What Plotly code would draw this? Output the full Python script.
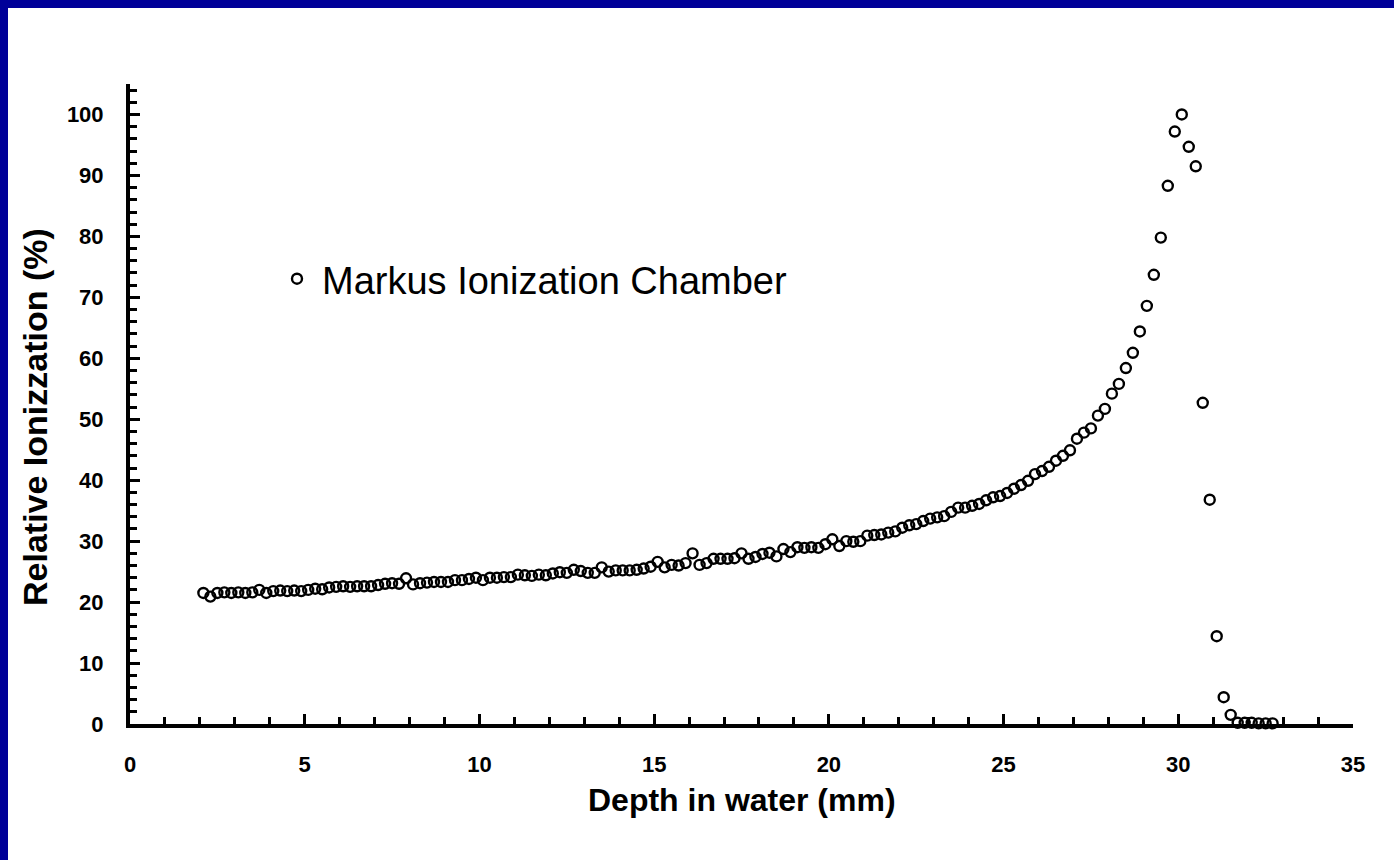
import plotly.graph_objects as go

depth_mm = [
    2.1, 2.3, 2.5, 2.7, 2.9, 3.1, 3.3, 3.5, 3.7, 3.9,
    4.1, 4.3, 4.5, 4.7, 4.9, 5.1, 5.3, 5.5, 5.7, 5.9,
    6.1, 6.3, 6.5, 6.7, 6.9, 7.1, 7.3, 7.5, 7.7, 7.9,
    8.1, 8.3, 8.5, 8.7, 8.9, 9.1, 9.3, 9.5, 9.7, 9.9,
    10.1, 10.3, 10.5, 10.7, 10.9, 11.1, 11.3, 11.5, 11.7, 11.9,
    12.1, 12.3, 12.5, 12.7, 12.9, 13.1, 13.3, 13.5, 13.7, 13.9,
    14.1, 14.3, 14.5, 14.7, 14.9, 15.1, 15.3, 15.5, 15.7, 15.9,
    16.1, 16.3, 16.5, 16.7, 16.9, 17.1, 17.3, 17.5, 17.7, 17.9,
    18.1, 18.3, 18.5, 18.7, 18.9, 19.1, 19.3, 19.5, 19.7, 19.9,
    20.1, 20.3, 20.5, 20.7, 20.9, 21.1, 21.3, 21.5, 21.7, 21.9,
    22.1, 22.3, 22.5, 22.7, 22.9, 23.1, 23.3, 23.5, 23.7, 23.9,
    24.1, 24.3, 24.5, 24.7, 24.9, 25.1, 25.3, 25.5, 25.7, 25.9,
    26.1, 26.3, 26.5, 26.7, 26.9, 27.1, 27.3, 27.5, 27.7, 27.9,
    28.1, 28.3, 28.5, 28.7, 28.9, 29.1, 29.3, 29.5, 29.7, 29.9,
    30.1, 30.3, 30.5, 30.7, 30.9, 31.1, 31.3, 31.5, 31.7, 31.9,
    32.1, 32.3, 32.5, 32.7,
]

relative_ionization = [
    21.5, 20.9, 21.5, 21.6, 21.5, 21.6, 21.5, 21.6, 22.0, 21.5,
    21.8, 21.9, 21.8, 21.9, 21.8, 22.0, 22.2, 22.1, 22.4, 22.5,
    22.6, 22.5, 22.6, 22.6, 22.6, 22.8, 23.0, 23.1, 23.0, 23.9,
    22.9, 23.1, 23.2, 23.3, 23.3, 23.3, 23.6, 23.6, 23.8, 24.0,
    23.6, 24.0, 24.0, 24.1, 24.1, 24.5, 24.4, 24.3, 24.5, 24.4,
    24.7, 24.9, 24.8, 25.3, 25.1, 24.8, 24.8, 25.7, 25.0, 25.2,
    25.2, 25.2, 25.3, 25.5, 25.8, 26.6, 25.7, 26.1, 26.0, 26.4,
    28.0, 26.1, 26.4, 27.1, 27.1, 27.1, 27.2, 28.0, 27.1, 27.4,
    27.9, 28.1, 27.5, 28.7, 28.2, 29.0, 28.9, 29.0, 28.9, 29.5,
    30.3, 29.2, 30.0, 29.9, 30.0, 30.9, 31.0, 31.1, 31.4, 31.6,
    32.2, 32.6, 32.8, 33.3, 33.7, 33.9, 34.1, 34.8, 35.5, 35.5,
    35.8, 36.1, 36.7, 37.2, 37.4, 37.9, 38.6, 39.2, 39.9, 41.0,
    41.5, 42.2, 43.2, 44.0, 44.9, 46.8, 47.8, 48.5, 50.6, 51.7,
    54.2, 55.8, 58.4, 60.9, 64.4, 68.6, 73.7, 79.8, 88.3, 97.2,
    100.0, 94.7, 91.5, 52.7, 36.8, 14.4, 4.4, 1.5, 0.2, 0.2,
    0.2, 0.1, 0.1, 0.1,
]

series_name = "Markus Ionization Chamber"
x_title = "Depth in water (mm)"
y_title = "Relative Ionizzation (%)"

W, H = 1394, 860
ML, MR, MT, MB = 130, 41, 84, 136
PW, PH = W - ML - MR, H - MT - MB


def px_x(p):
    return (p - ML) / PW


def px_y(p):
    return (H - MB - p) / PH


FONT = "Liberation Sans, Arial, sans-serif"
BLUE = "#000099"

fig = go.Figure()
fig.add_trace(go.Scatter(
    x=depth_mm, y=relative_ionization, mode="markers", name=series_name,
    marker=dict(symbol="circle-open", size=10, color="black",
                line=dict(width=2.4, color="black")),
    cliponaxis=False,
))

axis_common = dict(
    showgrid=False, zeroline=False, showline=True, linecolor="black",
    linewidth=4, ticks="inside", tickcolor="black", tickwidth=3,
    ticklen=10, mirror=False,
    tickfont=dict(family=FONT, size=22, color="black", weight="bold"),
)

fig.update_xaxes(range=[0, 35], dtick=5, tick0=0, ticklabelstandoff=18,
                 minor=dict(ticks="inside", dtick=1, ticklen=7, tickwidth=3,
                            tickcolor="black"),
                 **axis_common)
fig.update_yaxes(range=[0, 105], dtick=10, tick0=0, ticklabelstandoff=18,
                 minor=dict(ticks="inside", dtick=2, ticklen=7, tickwidth=3,
                            tickcolor="black"),
                 **axis_common)

fig.update_layout(
    width=W, height=H,
    margin=dict(l=ML, r=MR, t=MT, b=MB, pad=0),
    paper_bgcolor="white", plot_bgcolor="white",
    showlegend=True,
    legend=dict(x=px_x(272), y=px_y(279), xanchor="left", yanchor="middle",
                bgcolor="rgba(0,0,0,0)", borderwidth=0, itemwidth=40,
                font=dict(family=FONT, size=38, color="black")),
    annotations=[
        dict(text=x_title, xref="paper", yref="paper", x=0.5, y=px_y(800),
             xanchor="center", yanchor="middle", showarrow=False,
             font=dict(family=FONT, size=32, color="black", weight="bold")),
        dict(text=y_title, xref="paper", yref="paper", x=px_x(35), y=px_y(417),
             xanchor="center", yanchor="middle", showarrow=False, textangle=-90,
             font=dict(family=FONT, size=34, color="black", weight="bold")),
    ],
    shapes=[
        dict(type="rect", xref="paper", yref="paper", layer="above",
             x0=px_x(0), x1=px_x(8), y0=px_y(H), y1=px_y(0),
             fillcolor=BLUE, line=dict(width=0)),
        dict(type="rect", xref="paper", yref="paper", layer="above",
             x0=px_x(0), x1=px_x(W), y0=px_y(8), y1=px_y(0),
             fillcolor=BLUE, line=dict(width=0)),
    ],
)

fig.write_html(
    "out.html",
    config={"displayModeBar": False},
    post_script="document.body.style.margin='0';document.body.style.overflow='hidden';",
)
